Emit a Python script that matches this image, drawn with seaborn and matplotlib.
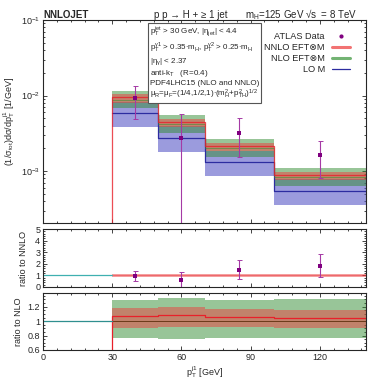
import numpy as np
import matplotlib as mpl
import matplotlib.pyplot as plt
from matplotlib.lines import Line2D
from matplotlib.ticker import MultipleLocator, LogLocator, NullFormatter
import seaborn as sns

# bin edges in pT(j1) [GeV]
edges = np.array([30, 50, 70, 100, 140])

# normalised distributions (1/sigma_tot dsigma/dpT) per bin
nnlo = np.array([9.5e-3, 4.5e-3, 2.16e-3, 8.85e-4])
nnlo_lo = np.array([8.05e-3, 3.8e-3, 1.86e-3, 7.6e-4])
nnlo_hi = np.array([1.05e-2, 4.95e-3, 2.38e-3, 9.76e-4])
nlo = np.array([8.85e-3, 4.15e-3, 2.04e-3, 8.46e-4])
nlo_lo = np.array([6.79e-3, 3.15e-3, 1.55e-3, 6.43e-4])
nlo_hi = np.array([1.15e-2, 5.47e-3, 2.65e-3, 1.10e-3])
lo = np.array([5.8e-3, 2.71e-3, 1.30e-3, 5.4e-4])
lo_lo = np.array([3.83e-3, 1.8e-3, 8.6e-4, 3.55e-4])
lo_hi = np.array([8.3e-3, 3.9e-3, 1.87e-3, 7.8e-4])

# ATLAS data
data_x = np.array([40, 60, 85, 120])
data_y = np.array([9.2e-3, 2.7e-3, 3.2e-3, 1.62e-3])
data_up = np.array([1.35e-2, 5.7e-3, 5.0e-3, 2.5e-3])
data_dn = np.array([4.9e-3, -3e-4, 1.52e-3, 8.0e-4])

sns.set_style("ticks")
mpl.rcParams['font.family'] = ['Liberation Sans', 'DejaVu Sans']
mpl.rcParams['mathtext.fontset'] = 'custom'
mpl.rcParams['mathtext.rm'] = 'Liberation Sans'
mpl.rcParams['mathtext.it'] = 'Liberation Sans:italic'
mpl.rcParams['mathtext.default'] = 'regular'
mpl.rcParams['font.size'] = 6.5

c_red = '#e8202a'
c_redband = (0.92, 0.25, 0.25)
c_green = '#2f8f2f'
c_greenband = (0.2, 0.55, 0.2)
c_blue = '#2c2ca0'
c_blueband = (0.35, 0.35, 0.78)
c_purple = '#800080'
c_err = '#a53aa5'
c_teal = '#3fb0b0'


def st(v):
    return np.append(v, v[-1])


def style(ax):
    ax.tick_params(direction='in', top=True, right=True, which='both', labelsize=6.5,
                   length=3, width=0.6, pad=2)
    ax.tick_params(which='minor', length=1.6)
    for s in ax.spines.values():
        s.set_linewidth(0.8)
    ax.set_xlim(0, 140)
    ax.xaxis.set_major_locator(MultipleLocator(30))
    ax.xaxis.set_minor_locator(MultipleLocator(6))


fig = plt.figure(figsize=(3.82, 3.82), dpi=100)
ax = fig.add_axes([0.1126, 0.4162, 0.8455, 0.5314])
ax2 = fig.add_axes([0.1126, 0.2487, 0.8455, 0.1518])
ax3 = fig.add_axes([0.1126, 0.0838, 0.8455, 0.1492])

# ---- main panel
ax.set_yscale('log')
ax.fill_between(edges, st(lo_lo), st(lo_hi), step='post', color=c_blueband, alpha=0.6, lw=0)
ax.fill_between(edges, st(nlo_lo), st(nlo_hi), step='post', color=c_greenband, alpha=0.5, lw=0)
ax.fill_between(edges, st(nnlo_lo), st(nnlo_hi), step='post', color=c_redband, alpha=0.5, lw=0)
ax.step(edges, st(lo), where='post', color=c_blue, lw=0.9)
ax.step(edges, st(nlo), where='post', color=c_green, lw=0.6, alpha=0.6)
ax.step(np.append(0, edges), np.append(0, st(nnlo)), where='post', color=c_red, lw=0.9, alpha=0.8)
ax.errorbar(data_x, data_y, yerr=[data_y - data_dn, data_up - data_y], fmt='none',
            ecolor=c_err, elinewidth=0.8, capsize=1.8, capthick=0.7)
sns.scatterplot(x=data_x, y=data_y, ax=ax, color=c_purple, marker='s', s=6, linewidth=0, zorder=5)
ax.set_ylim(2.05e-4, 0.1)
style(ax)
ax.yaxis.set_major_locator(LogLocator(base=10, numticks=10))
ax.yaxis.set_minor_locator(LogLocator(base=10, subs=np.arange(2, 10), numticks=20))
ax.yaxis.set_minor_formatter(NullFormatter())
ax.set_xticklabels([])
ax.set_ylabel(r'(1/$\sigma_{tot}$)d$\sigma$/d$p_T^{j1}$ [1/GeV]', fontsize=6.5, labelpad=3)

info = ('$p_T^{jet}$ > 30 GeV, |$\\eta_{jet}$| < 4.4\n'
        '$p_T^{\\gamma1}$ > 0.35$\\cdot$$m_H$, $p_T^{\\gamma2}$ > 0.25$\\cdot$$m_H$\n'
        '|$\\eta_\\gamma$| < 2.37\n'
        'anti-$k_T$   (R=0.4)\n'
        'PDF4LHC15 (NLO and NNLO)\n'
        '$\\mu_R$=$\\mu_F$=(1/4,1/2,1)$\\cdot$($m_H^2$+$p_{TH}^2$)$^{1/2}$')
ax.text(0.33, 0.975, info, transform=ax.transAxes, ha='left', va='top', fontsize=5.8,
        linespacing=1.15,
        bbox=dict(boxstyle='square,pad=0.25', fc='white', ec='#555555', lw=0.8))

handles = [Line2D([], [], marker='o', ls='none', color=c_purple, ms=2),
           Line2D([], [], color=(0.95, 0.45, 0.45), lw=2.2),
           Line2D([], [], color=(0.45, 0.7, 0.45), lw=2.2),
           Line2D([], [], color=c_blue, lw=0.9)]
labels = ['ATLAS Data', 'NNLO EFT⊗M', 'NLO EFT⊗M', 'LO M']
ax.legend(handles, labels, loc='upper right', bbox_to_anchor=(0.975, 0.98), frameon=False,
          markerfirst=False, fontsize=6.6, handlelength=1.9, labelspacing=0.2, handletextpad=0.8)

fig.text(0.1126, 0.962, 'NNLOJET', fontsize=7, fontweight='bold', ha='left', va='center')
fig.text(0.5, 0.962, 'p p → H + ≥ 1 jet', fontsize=7, ha='center', va='center')
fig.text(0.935, 0.962, 'm$_H$=125 GeV √s  = 8 TeV', fontsize=7, ha='right', va='center')

# ---- ratio to NNLO
r_lo = nnlo_lo / nnlo
r_hi = nnlo_hi / nnlo
ax2.fill_between(edges, st(r_lo), st(r_hi), step='post', color=c_redband, alpha=0.5, lw=0)
ax2.step(edges, st(nnlo / nnlo), where='post', color=c_red, lw=0.6, alpha=0.5)
ax2.plot([0, edges[0]], [1, 1], color=c_teal, lw=0.9)
bin_idx = np.searchsorted(edges, data_x, side='right') - 1
ref = nnlo[bin_idx]
ax2.errorbar(data_x, data_y / ref, yerr=[(data_y - data_dn) / ref, (data_up - data_y) / ref],
             fmt='none', ecolor=c_err, elinewidth=0.8, capsize=1.8, capthick=0.7)
sns.scatterplot(x=data_x, y=data_y / ref, ax=ax2, color=c_purple, marker='s', s=6, linewidth=0, zorder=5)
ax2.set_ylim(0, 5)
style(ax2)
ax2.yaxis.set_major_locator(MultipleLocator(1))
ax2.yaxis.set_minor_locator(MultipleLocator(0.2))
ax2.set_xticklabels([])
ax2.set_ylabel('ratio to NNLO', fontsize=6.5, labelpad=5)

# ---- ratio to NLO
ax3.fill_between(edges, st(nlo_lo / nlo), st(nlo_hi / nlo), step='post', color=c_greenband, alpha=0.5, lw=0)
ax3.fill_between(edges, st(nnlo_lo / nlo), st(nnlo_hi / nlo), step='post', color=c_redband, alpha=0.5, lw=0)
ax3.step(edges, st(nlo / nlo), where='post', color='#6b3a1a', lw=0.7)
ax3.step(np.append(0, edges), np.append(0, st(nnlo / nlo)), where='post', color=c_red, lw=0.9)
ax3.plot([0, edges[0]], [1, 1], color='#2f8f8f', lw=0.9)
ax3.set_ylim(0.6, 1.39)
style(ax3)
ax3.yaxis.set_major_locator(MultipleLocator(0.2))
ax3.yaxis.set_minor_locator(MultipleLocator(0.05))
ax3.yaxis.set_major_formatter(mpl.ticker.FuncFormatter(lambda v, p: f'{v:g}'))
ax3.set_ylabel('ratio to NLO', fontsize=6.5, labelpad=3)
ax3.set_xlabel('$p_T^{j1}$ [GeV]', fontsize=6.5, labelpad=2)

fig.savefig('out.png', dpi=100)
